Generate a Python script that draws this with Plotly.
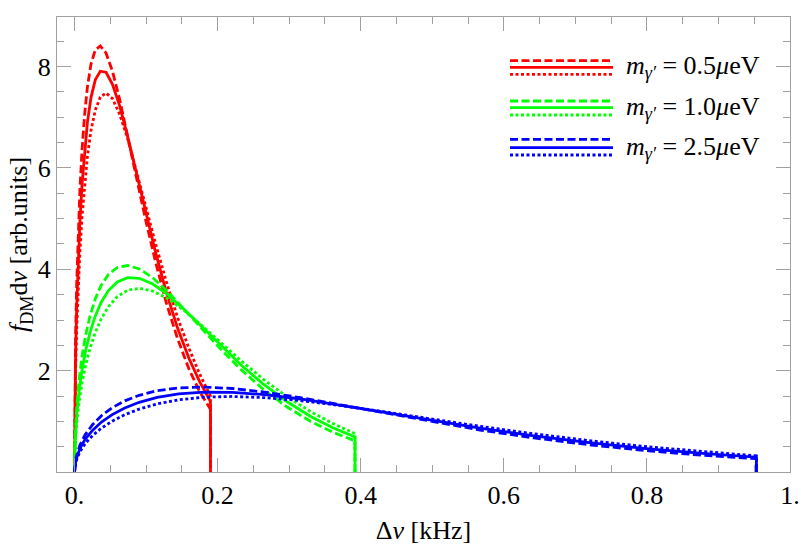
import plotly.graph_objects as go

# ---------------- data ----------------
# Delta nu [kHz] sample points for each dark-photon mass
x_05 = [0, 0.0004, 0.0015, 0.003, 0.005, 0.0075, 0.0105, 0.014, 0.018, 0.023, 0.029, 0.036,
        0.044, 0.053, 0.063, 0.074, 0.086, 0.099, 0.113, 0.128, 0.144, 0.160, 0.175, 0.190]
x_10 = [0, 0.0008, 0.0031, 0.0062, 0.0103, 0.0155, 0.0217, 0.0289, 0.0371, 0.0474, 0.0598, 0.0743,
        0.0908, 0.1093, 0.1300, 0.1527, 0.1774, 0.2042, 0.2331, 0.2641, 0.2971, 0.3301, 0.3610, 0.392]
x_25 = [0, 0.0020, 0.0075, 0.0150, 0.0251, 0.0376, 0.0527, 0.0702, 0.0903, 0.1154, 0.1455, 0.1806,
        0.2207, 0.2659, 0.3160, 0.3712, 0.4314, 0.4966, 0.5668, 0.6421, 0.7223, 0.8026, 0.8778, 0.953]

# f_DM dnu values: dashed / solid / dotted variants
y_05_dash = [0, 1.39, 2.66, 3.71, 4.68, 5.57, 6.36, 7.04, 7.60, 8.05, 8.33, 8.41,
             8.27, 7.91, 7.36, 6.66, 5.85, 5.00, 4.16, 3.35, 2.63, 2.03, 1.58, 1.24]
y_05_solid = [0, 1.21, 2.33, 3.25, 4.12, 4.94, 5.68, 6.34, 6.90, 7.39, 7.74, 7.91,
              7.89, 7.65, 7.23, 6.64, 5.93, 5.15, 4.35, 3.56, 2.84, 2.24, 1.78, 1.39]
y_05_dot = [0, 1.05, 2.01, 2.82, 3.60, 4.35, 5.04, 5.67, 6.23, 6.74, 7.14, 7.40,
            7.48, 7.37, 7.06, 6.59, 5.98, 5.27, 4.52, 3.77, 3.05, 2.44, 1.93, 1.50]

y_10_dash = [0, 0.675, 1.291, 1.796, 2.269, 2.701, 3.084, 3.414, 3.682, 3.900, 4.037, 4.075,
             4.006, 3.833, 3.566, 3.226, 2.838, 2.425, 2.015, 1.628, 1.282, 0.998, 0.785, 0.615]
y_10_solid = [0, 0.588, 1.127, 1.575, 1.999, 2.395, 2.755, 3.075, 3.345, 3.581, 3.751, 3.836,
              3.823, 3.710, 3.504, 3.219, 2.875, 2.496, 2.107, 1.732, 1.386, 1.096, 0.874, 0.690]
y_10_dot = [0, 0.507, 0.976, 1.368, 1.746, 2.107, 2.442, 2.748, 3.017, 3.265, 3.462, 3.587,
            3.626, 3.570, 3.423, 3.193, 2.898, 2.556, 2.192, 1.830, 1.485, 1.190, 0.958, 0.760]

y_25_dash = [0, 0.278, 0.531, 0.739, 0.933, 1.111, 1.269, 1.404, 1.514, 1.604, 1.661, 1.676,
             1.648, 1.576, 1.467, 1.327, 1.167, 0.997, 0.829, 0.672, 0.532, 0.418, 0.330, 0.262]
y_25_solid = [0, 0.242, 0.464, 0.648, 0.822, 0.985, 1.133, 1.265, 1.376, 1.473, 1.543, 1.578,
              1.572, 1.526, 1.441, 1.324, 1.182, 1.027, 0.866, 0.714, 0.574, 0.458, 0.366, 0.292]
y_25_dot = [0, 0.208, 0.401, 0.563, 0.718, 0.866, 1.004, 1.130, 1.241, 1.343, 1.424, 1.476,
            1.491, 1.468, 1.408, 1.313, 1.192, 1.051, 0.902, 0.754, 0.614, 0.495, 0.400, 0.318]

masses = ["0.5", "1.0", "2.5"]
colors = ["#ff0000", "#00ff00", "#0000ff"]
x_tick_vals = [0, 0.2, 0.4, 0.6, 0.8, 1.0]
x_tick_text = ["0.", "0.2", "0.4", "0.6", "0.8", "1."]
y_tick_vals = [2, 4, 6, 8]
y_tick_text = ["2", "4", "6", "8"]

# ---------------- figure ----------------
FONT = "Liberation Serif, Times New Roman, Times, serif"
FS = 26
LW = 2.8
DASH = "8px,3.5px"
DOT = "3px,2.5px"

groups = [
    (x_05, [y_05_dash, y_05_solid, y_05_dot]),
    (x_10, [y_10_dash, y_10_solid, y_10_dot]),
    (x_25, [y_25_dash, y_25_solid, y_25_dot]),
]
styles = [DASH, "solid", DOT]

fig = go.Figure()
for (xs, ys_list), col in zip(groups, colors):
    for ys, st in zip(ys_list, styles):
        # curve plus the vertical drop at the cut-off frequency
        fig.add_trace(go.Scatter(
            x=xs + [xs[-1]], y=ys + [0],
            mode="lines", line=dict(color=col, width=LW, dash=st),
            showlegend=False, hoverinfo="skip"))

axis_common = dict(
    showline=True, linecolor="#a0a0a0", linewidth=1, mirror="ticks",
    ticks="inside", ticklen=14, tickwidth=1, tickcolor="#a0a0a0",
    showgrid=False, zeroline=False, automargin=False,
    tickfont=dict(family=FONT, size=FS, color="black"),
)

fig.update_xaxes(
    range=[-0.0245, 1.0], tickmode="array", tickvals=x_tick_vals, ticktext=x_tick_text,
    minor=dict(ticks="inside", ticklen=7, tickcolor="#a0a0a0", tickwidth=1,
               tickmode="linear", tick0=0, dtick=0.05, showgrid=False),
    title=dict(text="Δ<i>ν</i> [kHz]", font=dict(family=FONT, size=FS, color="black"),
               standoff=15),
    **axis_common)
fig.update_yaxes(
    range=[0, 8.98], tickmode="array", tickvals=y_tick_vals, ticktext=y_tick_text,
    minor=dict(ticks="inside", ticklen=7, tickcolor="#a0a0a0", tickwidth=1,
               tickmode="linear", tick0=0, dtick=0.5, showgrid=False),
    title=dict(text="<i>f</i><sub>DM</sub>d<i>ν</i> [arb.units]",
               font=dict(family=FONT, size=FS, color="black"), standoff=2),
    **axis_common)

# custom legend: three stacked line samples per mass + label
legend_rows = [(0.904, 0.8895, 0.874), (0.8154, 0.8007, 0.7846), (0.7312, 0.7127, 0.6967)]
shapes = []
annotations = []
for col, m, rows in zip(colors, masses, legend_rows):
    for yy, st in zip(rows, styles):
        shapes.append(dict(type="line", xref="paper", yref="paper",
                           x0=0.618, x1=0.7585, y0=yy, y1=yy,
                           line=dict(color=col, width=LW, dash=st)))
    annotations.append(dict(
        xref="paper", yref="paper", x=0.773, y=rows[1], xanchor="left", yanchor="middle",
        text=f"<i>m</i><sub><i>γ′</i></sub> = {m}<i>μ</i>eV", showarrow=False,
        font=dict(family=FONT, size=FS, color="black")))

fig.update_layout(
    width=801, height=545,
    margin=dict(l=57, r=11, t=17, b=73),
    plot_bgcolor="white", paper_bgcolor="white",
    shapes=shapes, annotations=annotations,
    showlegend=False,
)

fig.write_html("out.html", config={"displayModeBar": False},
               post_script="document.body.style.margin='0px';document.body.style.overflow='hidden';")
